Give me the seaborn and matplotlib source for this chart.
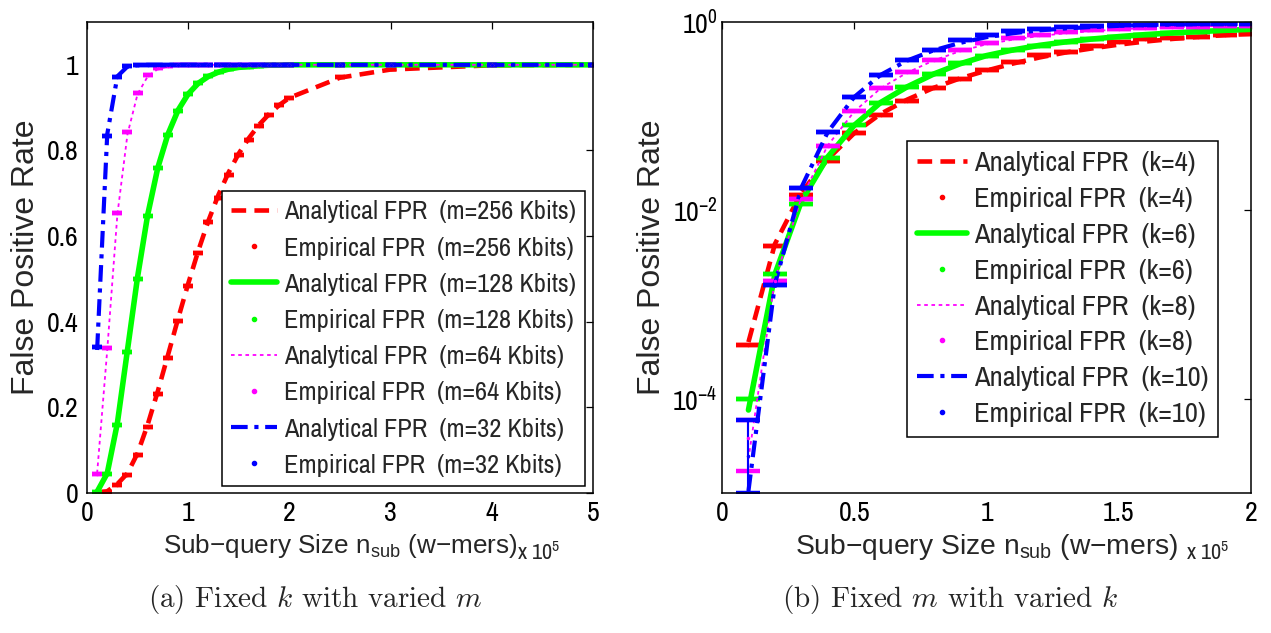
import matplotlib
matplotlib.use("Agg")
import matplotlib.pyplot as plt
import seaborn as sns
from matplotlib import font_manager
from matplotlib.lines import Line2D
from matplotlib.ticker import NullLocator

# sub-query sizes, in units of 1e5 w-mers
n_left = [0.1, 0.2, 0.3, 0.4, 0.5, 0.6, 0.7, 0.8, 0.9, 1.0, 1.1, 1.2,
          1.3, 1.4, 1.5, 1.6, 1.7, 1.8, 1.9, 2.0, 2.5, 3.0, 4.0, 5.0]
n_right = [0.1, 0.2, 0.3, 0.4, 0.5, 0.6, 0.7, 0.8, 0.9, 1.0,
           1.1, 1.2, 1.3, 1.4, 1.5, 1.6, 1.7, 1.8, 1.9, 2.0]

# (a) fixed k, varied m
ana_m256 = [0.0005, 0.004, 0.021, 0.046, 0.093, 0.160, 0.238, 0.322, 0.407, 0.489, 0.566, 0.636,
            0.697, 0.749, 0.793, 0.829, 0.860, 0.885, 0.906, 0.923, 0.970, 0.989, 0.999, 1.000]
emp_m256 = [0.000, 0.003, 0.019, 0.042, 0.089, 0.154, 0.232, 0.315, 0.401, 0.483, 0.561, 0.632,
            0.690, 0.743, 0.789, 0.825, 0.856, 0.883, 0.905, 0.923, 0.972, 0.990, 0.999, 1.000]
ana_m128 = [0.003, 0.046, 0.163, 0.334, 0.505, 0.650, 0.760, 0.838, 0.894, 0.932, 0.957, 0.973,
            0.983, 0.990, 0.994, 0.996, 0.998, 0.999, 0.999, 1.000, 1.000, 1.000, 1.000, 1.000]
emp_m128 = [0.003, 0.044, 0.159, 0.329, 0.500, 0.647, 0.758, 0.836, 0.893, 0.932, 0.958, 0.974,
            0.984, 0.990, 0.994, 0.996, 0.998, 0.999, 0.999, 1.000, 1.000, 1.000, 1.000, 1.000]
ana_m64 = [0.046, 0.334, 0.650, 0.838, 0.932, 0.973, 0.990, 0.996, 0.999, 1.000, 1.000, 1.000,
           1.000, 1.000, 1.000, 1.000, 1.000, 1.000, 1.000, 1.000, 1.000, 1.000, 1.000, 1.000]
emp_m64 = [0.044, 0.339, 0.653, 0.842, 0.934, 0.977, 0.992, 0.997, 0.999, 1.000, 1.000, 1.000,
           1.000, 1.000, 1.000, 1.000, 1.000, 1.000, 1.000, 1.000, 1.000, 1.000, 1.000, 1.000]
ana_m32 = [0.334, 0.838, 0.973, 0.996, 0.999, 1.000, 1.000, 1.000, 1.000, 1.000, 1.000, 1.000,
           1.000, 1.000, 1.000, 1.000, 1.000, 1.000, 1.000, 1.000, 1.000, 1.000, 1.000, 1.000]
emp_m32 = [0.341, 0.834, 0.971, 0.997, 1.000, 1.000, 1.000, 1.000, 1.000, 1.000, 1.000, 1.000,
           1.000, 1.000, 1.000, 1.000, 1.000, 1.000, 1.000, 1.000, 1.000, 1.000, 1.000, 1.000]
labels_m = ["256", "128", "64", "32"]

# (b) fixed m, varied k
ana_k4 = [4.0e-4, 4.4e-3, 0.0155, 0.035, 0.066, 0.106, 0.150, 0.200, 0.252, 0.305,
          0.362, 0.420, 0.475, 0.525, 0.575, 0.620, 0.660, 0.695, 0.725, 0.750]
emp_k4 = [3.7e-4, 4.2e-3, 0.0145, 0.0335, 0.066, 0.104, 0.145, 0.198, 0.250, 0.308,
          0.373, 0.447, 0.484, 0.560, 0.608, 0.660, 0.671, 0.698, 0.728, 0.740]
ana_k6 = [7.6e-5, 2.1e-3, 0.0125, 0.037, 0.080, 0.140, 0.205, 0.280, 0.360, 0.440,
          0.505, 0.565, 0.615, 0.660, 0.700, 0.735, 0.765, 0.790, 0.815, 0.835]
emp_k6 = [1.0e-4, 2.1e-3, 0.0118, 0.0363, 0.0805, 0.138, 0.202, 0.282, 0.363, 0.440,
          0.500, 0.560, 0.610, 0.660, 0.700, 0.735, 0.765, 0.790, 0.815, 0.835]
ana_k8 = [2.3e-5, 1.85e-3, 0.0135, 0.049, 0.112, 0.198, 0.290, 0.390, 0.490, 0.580,
          0.650, 0.710, 0.760, 0.800, 0.835, 0.860, 0.880, 0.895, 0.910, 0.920]
emp_k8 = [3.8e-5, 1.8e-3, 0.0133, 0.0487, 0.1125, 0.198, 0.294, 0.394, 0.500, 0.594,
          0.671, 0.728, 0.789, 0.822, 0.850, 0.865, 0.880, 0.890, 0.900, 0.910]
ana_k10 = [1.05e-5, 1.65e-3, 0.0175, 0.068, 0.160, 0.275, 0.390, 0.500, 0.600, 0.690,
           0.760, 0.815, 0.855, 0.885, 0.910, 0.930, 0.940, 0.950, 0.955, 0.960]
emp_k10 = [2.5e-5, 1.61e-3, 0.0172, 0.068, 0.160, 0.277, 0.394, 0.506, 0.640, 0.728,
           0.800, 0.843, 0.890, 0.910, 0.930, 0.940, 0.945, 0.950, 0.955, 0.960]
# error bars (only the first point has a visible spread)
err_lo_k8 = [2.1e-5, 0, 0, 0, 0, 0, 0, 0, 0, 0, 0, 0, 0, 0, 0, 0, 0, 0, 0, 0]
err_hi_k8 = [2.1e-5, 0, 0, 0, 0, 0, 0, 0, 0, 0, 0, 0, 0, 0, 0, 0, 0, 0, 0, 0]
err_lo_k10 = [1.5e-5, 0, 0, 0, 0, 0, 0, 0, 0, 0, 0, 0, 0, 0, 0, 0, 0, 0, 0, 0]
err_hi_k10 = [3.4e-5, 0, 0, 0, 0, 0, 0, 0, 0, 0, 0, 0, 0, 0, 0, 0, 0, 0, 0, 0]
labels_k = ["4", "6", "8", "10"]

colors = ["#ff0000", "#00ff00", "#ff00ff", "#0000ff"]
line_kw = [dict(lw=3.3, dashes=(3.2, 1.8)),
           dict(lw=4.0, dashes=()),
           dict(lw=1.3, dashes=(2.0, 2.0)),
           dict(lw=3.0, dashes=(4.0, 1.6, 1.0, 1.6))]

sns.set_style("white")
available = {f.name for f in font_manager.fontManager.ttflist}
NARROW = "Liberation Sans"
for cand in ["Liberation Sans Narrow", "Arial Narrow", "Archivo Narrow", "Roboto Condensed",
             "PT Sans Narrow", "Pragati Narrow", "Fira Sans Condensed"]:
    if cand in available:
        NARROW = cand
        break
plt.rcParams["font.family"] = ["Liberation Sans", "DejaVu Sans"]
tick_size = 20 if NARROW != "Liberation Sans" else 16
leg_size = 19 if NARROW != "Liberation Sans" else 16

fig = plt.figure(figsize=(12.71, 6.33), dpi=100)
ax1 = fig.add_axes([87 / 1271, 140 / 633, 506 / 1271, 471 / 633])
ax2 = fig.add_axes([722 / 1271, 140 / 633, 529 / 1271, 471 / 633])


def draw_series(ax, x, ana, emp, i, capsize, yerr=None):
    sns.lineplot(x=x, y=ana, ax=ax, color=colors[i], lw=line_kw[i]["lw"], legend=False)
    ln = ax.lines[-1]
    if line_kw[i]["dashes"]:
        ln.set_dashes(line_kw[i]["dashes"])
    ax.errorbar(x, emp, yerr=yerr if yerr is not None else 0, fmt=".", color=colors[i],
                ms=3, capsize=capsize, capthick=3.2, elinewidth=1.5)


left_sets = [(ana_m256, emp_m256), (ana_m128, emp_m128), (ana_m64, emp_m64), (ana_m32, emp_m32)]
for i, (a, e) in enumerate(left_sets):
    draw_series(ax1, n_left, a, e, i, 3.6)

right_sets = [(ana_k4, emp_k4, None), (ana_k6, emp_k6, None),
              (ana_k8, emp_k8, [err_lo_k8, err_hi_k8]), (ana_k10, emp_k10, [err_lo_k10, err_hi_k10])]
for i, (a, e, err) in enumerate(right_sets):
    draw_series(ax2, n_right, a, e, i, 8.6, err)

# axes cosmetics (MATLAB look)
for ax, ylab_x, xl_size in ((ax1, -0.091, 18.8), (ax2, -0.104, 20.3)):
    for s in ax.spines.values():
        s.set_color("black")
        s.set_linewidth(1.1)
    ax.tick_params(direction="in", top=True, right=True, length=5, width=0.9,
                   pad=6, colors="black")
    ax.set_ylabel("False Positive Rate", fontsize=23)
    ax.yaxis.set_label_coords(ylab_x, 0.5)
    ax.set_xlabel("Sub\u2212query Size n$_{\\mathregular{sub}}$ (w\u2212mers)", fontsize=xl_size, labelpad=4)
ax2.tick_params(axis="y", pad=3)

ax1.set_xlim(0, 5)
ax1.set_ylim(0, 1.1)
ax1.set_xticks([0, 1, 2, 3, 4, 5])
ax1.set_xticklabels(["0", "1", "2", "3", "4", "5"], fontfamily=NARROW, fontsize=tick_size)
ax1.set_yticks([0, 0.2, 0.4, 0.6, 0.8, 1.0])
ax1.set_yticklabels(["0", "0.2", "0.4", "0.6", "0.8", "1"], fontfamily=NARROW, fontsize=tick_size)

ax2.set_yscale("log")
ax2.set_xlim(0, 2)
ax2.set_ylim(1e-5, 1)
ax2.set_xticks([0, 0.5, 1, 1.5, 2])
ax2.set_xticklabels(["0", "0.5", "1", "1.5", "2"], fontfamily=NARROW, fontsize=tick_size)
ax2.set_yticks([1e-4, 1e-2, 1])
ax2.yaxis.set_minor_locator(NullLocator())
ax2.set_yticklabels([r"$\mathregular{10^{-4}}$", r"$\mathregular{10^{-2}}$", r"$\mathregular{10^{0}}$"],
                    fontfamily=NARROW, fontsize=tick_size)


def make_legend(ax, names, key, anchor, size, spacing):
    handles, texts = [], []
    for i, nm in enumerate(names):
        kw = line_kw[i]
        h = Line2D([], [], color=colors[i], lw=kw["lw"])
        if kw["dashes"]:
            h.set_dashes(kw["dashes"])
        handles.append(h)
        texts.append(f"Analytical FPR  ({key}={nm})")
        handles.append(Line2D([], [], color=colors[i], ls="none", marker=".", ms=6))
        texts.append(f"Empirical FPR  ({key}={nm})")
    leg = ax.legend(handles, texts, loc="lower right", bbox_to_anchor=anchor,
                    prop={"family": NARROW, "size": size}, numpoints=1,
                    frameon=True, fancybox=False, framealpha=1, edgecolor="black",
                    handlelength=1.75, handletextpad=0.25, labelspacing=spacing,
                    borderpad=0.35, borderaxespad=0)
    leg.get_frame().set_linewidth(1.1)


make_legend(ax1, [m + " Kbits" for m in labels_m], "m", (0.984, 0.015), leg_size, 0.5)
make_legend(ax2, labels_k, "k", (0.938, 0.119), leg_size + 1.5, 0.38)

# x 10^5 multipliers
for xpos in (517 / 1271, 1186 / 1271):
    fig.text(xpos, (633 - 560) / 633, r"x 10$^{\mathregular{5}}$", fontsize=16,
             fontfamily=NARROW, va="baseline", ha="left")

# sub-captions
for xpos, txt in ((315 / 1271, r"(a) Fixed $k$ with varied $m$"),
                  (950 / 1271, r"(b) Fixed $m$ with varied $k$")):
    fig.text(xpos, (633 - 600) / 633, txt, fontsize=21, fontfamily="cmr10",
             math_fontfamily="cm", ha="center", va="center")

fig.savefig("out.png", dpi=100)
